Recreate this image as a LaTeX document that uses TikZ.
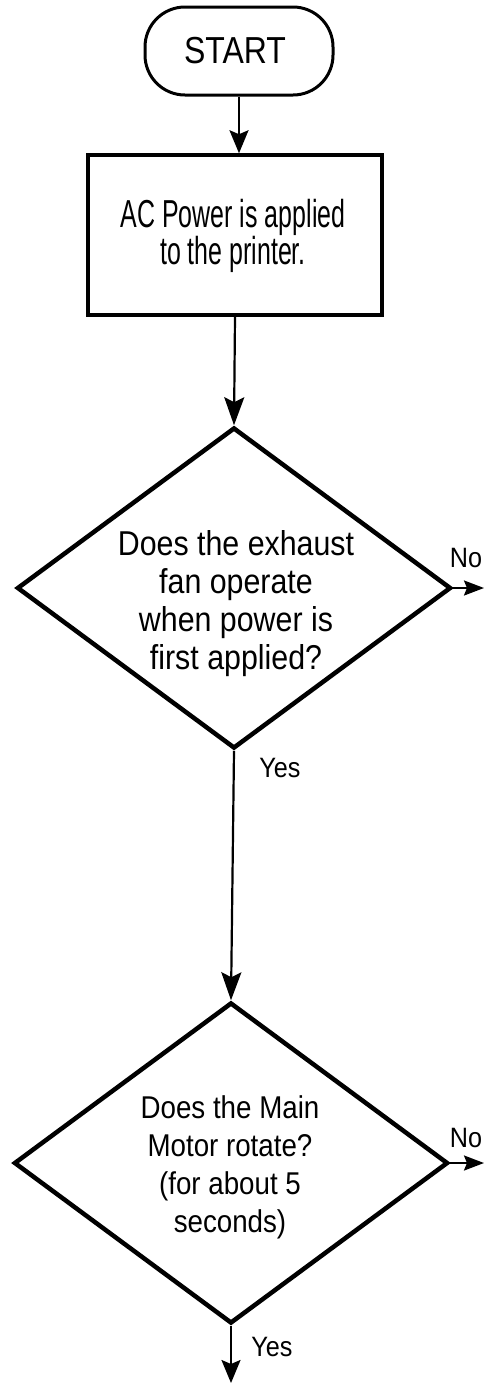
\documentclass[tikz,border=0pt]{standalone}
\usepackage{fontspec}
\setmainfont{Liberation Sans}
\newfontfamily\startfont{Liberation Sans}[FakeStretch=0.85]
\newfontfamily\boxfont{Liberation Sans}[FakeStretch=0.64]
\newfontfamily\dfont{Liberation Sans}[FakeStretch=0.88]
\newfontfamily\lblfont{Liberation Sans}[FakeStretch=0.9]
\usetikzlibrary{shapes.geometric,arrows.meta}
\begin{document}
\begin{tikzpicture}[x=1pt,y=-1pt,
  conn/.style={line width=2.2pt},
  bigarr/.style={-{Stealth[length=28pt,width=20pt,inset=5pt]}},
  midarr/.style={-{Stealth[length=23pt,width=19pt,inset=4pt]}},
  smallarr/.style={-{Stealth[length=20pt,width=15pt,inset=3pt]}},
  startbox/.style={draw,line width=3pt,rounded corners=40pt,minimum width=188pt,minimum height=88pt,inner sep=0pt},
  procbox/.style={draw,line width=3.5pt,minimum width=294pt,minimum height=160pt,inner sep=0pt},
  decision/.style={draw,diamond,line width=4.5pt,minimum width=434pt,minimum height=321pt,inner sep=0pt},
  stext/.style={inner sep=0pt,font=\startfont\fontsize{37.6}{40}\selectfont},
  btext/.style={align=center,inner sep=0pt,font=\boxfont\fontsize{39}{36}\selectfont},
  dtext/.style={align=center,inner sep=0pt,font=\dfont\fontsize{34.5}{38}\selectfont},
  dtextb/.style={align=center,inner sep=0pt,font=\dfont\fontsize{31.5}{38}\selectfont},
  lbl/.style={inner sep=0pt,font=\lblfont\fontsize{28}{30}\selectfont}]
\useasboundingbox (0,0) rectangle (484,1384);
\fill[white] (0,0) rectangle (484,1384);
\node[startbox] (start) at (239,51) {};
\node[stext] (starttext) at (235,51) {START};
\node[procbox] (power) at (235,235) {};
\node[btext] (powertext) at (233,236) {AC Power is applied\\to the printer.};
\node[decision] (d1) at (234,588) {};
\node[dtext] (d1text) at (236,604) {Does the exhaust\\fan operate\\when power is\\first applied?};
\node[decision] (d2) at (231,1163) {};
\node[dtextb] (d2text) at (230,1167) {Does the Main\\Motor rotate?\\(for about 5\\seconds)};
\coordinate (no1end) at (484,588);
\coordinate (no2end) at (484,1163);
\coordinate (yes2end) at (231,1383);
\draw[conn,midarr] (start.south) -- (start.south |- power.north);
\draw[conn,bigarr] (power.south) -- (d1.north);
\draw[conn,bigarr] (d1.south) -- (d2.north);
\draw[conn,smallarr] (d1.east) -- (no1end);
\draw[conn,smallarr] (d2.east) -- (no2end);
\draw[conn,midarr] (d2.south) -- (yes2end);
\node[lbl] (no1) at (466,558) {No};
\node[lbl] (yes1) at (280,768) {Yes};
\node[lbl] (no2) at (466,1138) {No};
\node[lbl] (yes2) at (272,1347) {Yes};
\end{tikzpicture}
\end{document}
